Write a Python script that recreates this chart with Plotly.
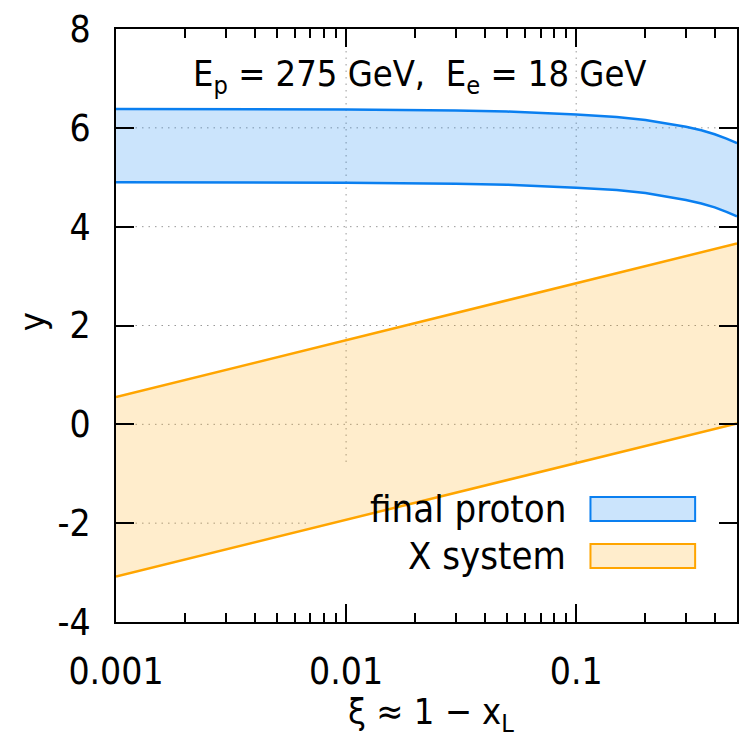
import math
import plotly.graph_objects as go

# ---- data ----
xi_proton = [0.001, 0.003, 0.01, 0.03, 0.05, 0.1, 0.15, 0.2, 0.25, 0.3, 0.35, 0.4, 0.45, 0.5]
proton_upper = [6.38, 6.38, 6.37, 6.35, 6.33, 6.27, 6.22, 6.16, 6.09, 6.02, 5.95, 5.87, 5.78, 5.69]
proton_lower = [4.90, 4.90, 4.89, 4.87, 4.85, 4.79, 4.74, 4.68, 4.61, 4.54, 4.47, 4.39, 4.30, 4.21]

xi_x = [0.001, 0.01, 0.1, 0.5]
x_upper = [0.55, 1.70, 2.85, 3.66]
x_lower = [-3.08, -1.93, -0.78, 0.02]

x_tickvals = [0.001, 0.01, 0.1]
x_ticktext = ["0.001", "0.01", "0.1"]
x_minor_mult = [2, 3, 4, 5, 6, 7, 8, 9]
y_tickvals = [-4, -2, 0, 2, 4, 6, 8]
y_ticktext = ["-4", "-2", "0", "2", "4", "6", "8"]

series_names = ["final proton", "X system"]
title_text = "E<sub>p</sub> = 275 GeV,  E<sub>e</sub> = 18 GeV"
xlabel = "ξ ≈ 1 − x<sub>L</sub>"
ylabel = "y"

# ---- style ----
FONT = "DejaVu Sans Condensed, DejaVu Sans, sans-serif"
BLUE = "#0a7ff0"
BLUE_FILL = "rgba(10,127,240,0.21)"
ORANGE = "#ffa500"
ORANGE_FILL = "rgba(255,165,0,0.2)"
GRID = "#999999"
GRID_DASH = "1.5px,5px"
LW = 2.5

W, H = 739, 735
L, R, T, B = 116, 0, 29, 113
XMIN, XMAX = 0.001, 0.5
YMIN, YMAX = -4, 8

plot_w = W - L - R
plot_h = H - T - B

x_minor_vals = [m * d for d in x_tickvals for m in x_minor_mult if m * d <= XMAX]


def xp(v):
    return (math.log10(v) - math.log10(XMIN)) / (math.log10(XMAX) - math.log10(XMIN))


def yp(v):
    return (v - YMIN) / (YMAX - YMIN)


def px_x(p):  # pixel -> paper x
    return (p - L) / plot_w


def px_y(p):  # pixel -> paper y
    return (H - B - p) / plot_h


fig = go.Figure()

fig.add_trace(go.Scatter(x=xi_proton, y=proton_lower, mode="lines",
                         line=dict(color=BLUE, width=LW), showlegend=False, hoverinfo="skip"))
fig.add_trace(go.Scatter(x=xi_proton, y=proton_upper, mode="lines", fill="tonexty",
                         fillcolor=BLUE_FILL, line=dict(color=BLUE, width=LW),
                         name=series_names[0], showlegend=False))
fig.add_trace(go.Scatter(x=xi_x, y=x_lower, mode="lines",
                         line=dict(color=ORANGE, width=LW), showlegend=False, hoverinfo="skip"))
fig.add_trace(go.Scatter(x=xi_x, y=x_upper, mode="lines", fill="tonexty",
                         fillcolor=ORANGE_FILL, line=dict(color=ORANGE, width=LW),
                         name=series_names[1], showlegend=False))

# ---- grid (dotted, interrupted by the key area) ----
key_left = px_x(310)
key_top = px_y(462)
shapes = []
for v in [0.01, 0.1]:
    shapes.append(dict(type="line", xref="paper", yref="paper", x0=xp(v), x1=xp(v),
                       y0=key_top, y1=1, line=dict(color=GRID, width=1, dash=GRID_DASH), layer="below"))
for v in [0, 2, 4, 6]:
    shapes.append(dict(type="line", xref="paper", yref="paper", x0=0, x1=1,
                       y0=yp(v), y1=yp(v), line=dict(color=GRID, width=1, dash=GRID_DASH), layer="below"))
shapes.append(dict(type="line", xref="paper", yref="paper", x0=0, x1=key_left,
                   y0=yp(-2), y1=yp(-2), line=dict(color=GRID, width=1, dash=GRID_DASH), layer="below"))

# ---- custom key (text left of sample box, as in gnuplot) ----
annotations = []
key_rows = [(509, BLUE, BLUE_FILL, series_names[0]), (556, ORANGE, ORANGE_FILL, series_names[1])]
for cy, lc, fc, name in key_rows:
    shapes.append(dict(type="rect", xref="paper", yref="paper",
                       x0=px_x(592), x1=px_x(697), y0=px_y(cy + 12), y1=px_y(cy - 12),
                       line=dict(color=lc, width=2), fillcolor=fc, layer="above"))
    annotations.append(dict(text=name, xref="paper", yref="paper", x=px_x(569), y=px_y(cy),
                            xanchor="right", yanchor="middle", showarrow=False,
                            font=dict(family=FONT, size=38, color="black")))

annotations.append(dict(text=title_text, xref="paper", yref="paper", x=px_x(421), y=px_y(76),
                        xanchor="center", yanchor="middle", showarrow=False,
                        font=dict(family=FONT, size=36, color="black")))
annotations.append(dict(text=xlabel, xref="paper", yref="paper", x=px_x(432), y=px_y(714),
                        xanchor="center", yanchor="middle", showarrow=False,
                        font=dict(family=FONT, size=36, color="black")))
annotations.append(dict(text=ylabel, xref="paper", yref="paper", x=px_x(32), y=px_y(322),
                        xanchor="center", yanchor="middle", showarrow=False, textangle=-90,
                        font=dict(family=FONT, size=36, color="black")))

fig.update_layout(
    width=W, height=H,
    margin=dict(l=L, r=R, t=T, b=B),
    paper_bgcolor="white", plot_bgcolor="white",
    font=dict(family=FONT, size=36, color="black"),
    shapes=shapes, annotations=annotations,
    showlegend=False,
)

fig.update_xaxes(
    type="log", range=[math.log10(XMIN), math.log10(XMAX)],
    tickvals=x_tickvals, ticktext=x_ticktext,
    ticks="inside", ticklen=18, tickwidth=1.5, tickcolor="black",
    minor=dict(tickmode="array", tickvals=x_minor_vals, ticks="inside", ticklen=9,
               tickwidth=1.5, tickcolor="black", showgrid=False),
    showline=True, linecolor="black", linewidth=2, mirror="ticks",
    showgrid=False, zeroline=False,
    tickfont=dict(family=FONT, size=37), ticklabelstandoff=16,
)
fig.update_yaxes(
    range=[YMIN, YMAX], tickvals=y_tickvals, ticktext=y_ticktext,
    ticks="inside", ticklen=18, tickwidth=1.5, tickcolor="black",
    showline=True, linecolor="black", linewidth=2, mirror="ticks",
    showgrid=False, zeroline=False,
    tickfont=dict(family=FONT, size=37), ticklabelstandoff=16,
)

fig.write_html("out.html")
